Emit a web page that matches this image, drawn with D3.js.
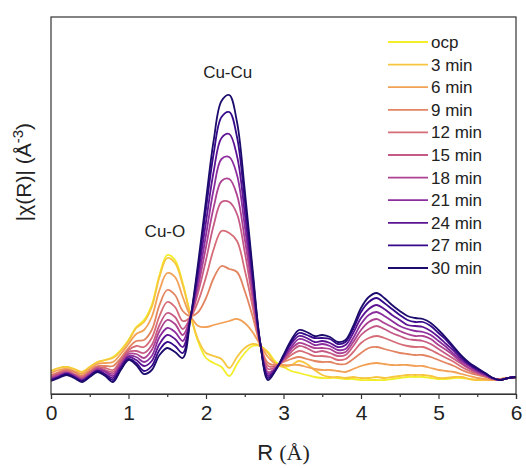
<!DOCTYPE html>
<html>
<head>
<meta charset="utf-8">
<script src="https://cdn.jsdelivr.net/npm/d3@7"></script>
<style>
  body { margin: 0; background: #fff; }
  text { font-family: "Liberation Sans", Arial, sans-serif; fill: #222; }
</style>
</head>
<body>
<div id="chart"></div>
<script>
// R grid (Å), shared by every curve
var rGrid = [0.0,0.1,0.2,0.3,0.4,0.5,0.6,0.7,0.8,0.9,
  1.0,1.1,1.2,1.3,1.4,1.5,1.6,1.7,1.8,1.9,
  2.0,2.1,2.2,2.3,2.4,2.5,2.6,2.7,2.8,2.9,
  3.0,3.1,3.2,3.3,3.4,3.5,3.6,3.7,3.8,3.9,
  4.0,4.1,4.2,4.3,4.4,4.5,4.6,4.7,4.8,4.9,
  5.0,5.1,5.2,5.3,5.4,5.5,5.6,5.7,5.8,5.9,6.0];

var seriesNames = ["ocp","3 min","6 min","9 min","12 min","15 min","18 min","21 min","24 min","27 min","30 min"];
var seriesColors = ["#f2ee2a","#f7c63e","#f2a055","#e38461","#d66c77","#c65a86","#ad4293","#8c2e9e","#5d1494","#35098a","#1c0b6c"];

var ocp = [.23,.26,.27,.25,.22,.27,.32,.34,.37,.44,
  .54,.67,.74,.89,1.19,1.39,1.34,1.11,.79,.52,
  .36,.31,.27,.18,.30,.41,.48,.48,.42,.32,
  .27,.23,.21,.19,.17,.16,.16,.16,.15,.15,
  .14,.14,.14,.14,.15,.16,.17,.17,.17,.16,
  .15,.15,.16,.16,.15,.14,.14,.14,.15,.16,.16];
var min3 = [.23,.26,.27,.25,.22,.27,.32,.34,.36,.43,
  .53,.66,.72,.87,1.17,1.36,1.31,1.09,.79,.54,
  .41,.38,.35,.26,.37,.46,.50,.48,.41,.30,
  .27,.29,.33,.30,.24,.19,.17,.17,.16,.17,
  .16,.16,.17,.16,.17,.18,.19,.19,.19,.18,
  .16,.16,.17,.17,.15,.14,.14,.14,.15,.16,.16];
var min6 = [.21,.24,.25,.23,.20,.25,.30,.31,.32,.40,
  .50,.60,.64,.77,1.04,1.21,1.17,.97,.78,.68,
  .67,.69,.71,.73,.75,.71,.62,.49,.37,.30,
  .29,.29,.29,.27,.25,.24,.24,.23,.22,.25,
  .28,.30,.31,.30,.29,.29,.29,.28,.28,.26,
  .24,.23,.22,.20,.18,.16,.15,.14,.15,.16,.16];
var min9 = [.19,.22,.24,.22,.18,.23,.28,.28,.28,.36,
  .46,.53,.54,.64,.89,1.04,.99,.83,.78,.82,
  .96,1.16,1.28,1.25,1.22,1.03,.78,.49,.31,.29,
  .32,.35,.37,.35,.33,.32,.32,.30,.30,.35,
  .41,.46,.47,.45,.43,.41,.40,.39,.39,.37,
  .34,.31,.28,.24,.21,.19,.17,.15,.15,.16,.16];
var min12 = [.18,.21,.23,.20,.17,.22,.27,.26,.24,.34,
  .44,.48,.47,.56,.78,.92,.87,.73,.77,.93,
  1.17,1.45,1.63,1.61,1.53,1.24,.88,.50,.28,.28,
  .33,.39,.43,.41,.38,.38,.37,.34,.35,.42,
  .51,.56,.58,.56,.53,.50,.48,.47,.47,.44,
  .40,.36,.32,.27,.23,.20,.18,.15,.14,.16,.17];
var min15 = [.17,.20,.22,.19,.16,.21,.26,.24,.22,.32,
  .42,.43,.41,.49,.69,.81,.77,.65,.77,1.02,
  1.34,1.69,1.92,1.92,1.80,1.42,.96,.50,.25,.27,
  .34,.42,.48,.46,.42,.43,.41,.38,.39,.48,
  .59,.65,.68,.65,.61,.58,.55,.54,.53,.50,
  .45,.40,.35,.30,.25,.21,.18,.15,.14,.16,.17];
var min18 = [.16,.19,.21,.19,.15,.20,.25,.23,.20,.30,
  .40,.40,.36,.44,.63,.74,.70,.59,.77,1.08,
  1.47,1.87,2.13,2.15,1.99,1.55,1.03,.50,.22,.26,
  .35,.45,.51,.49,.46,.46,.45,.41,.42,.52,
  .64,.72,.75,.71,.67,.63,.60,.58,.58,.55,
  .49,.44,.38,.31,.26,.22,.19,.15,.14,.16,.17];
var min21 = [.15,.18,.21,.18,.14,.19,.24,.22,.18,.28,
  .38,.37,.32,.38,.57,.66,.62,.53,.77,1.14,
  1.59,2.05,2.35,2.37,2.19,1.68,1.09,.50,.20,.26,
  .36,.47,.55,.53,.49,.50,.48,.44,.45,.56,
  .70,.79,.82,.78,.73,.68,.65,.63,.62,.59,
  .53,.47,.40,.33,.28,.23,.19,.16,.14,.16,.17];
var min24 = [.14,.17,.20,.17,.13,.18,.23,.20,.16,.27,
  .37,.34,.28,.33,.50,.59,.55,.47,.76,1.21,
  1.72,2.23,2.56,2.60,2.38,1.81,1.15,.51,.18,.25,
  .37,.50,.58,.56,.52,.53,.51,.47,.49,.61,
  .76,.85,.89,.85,.79,.74,.69,.68,.67,.63,
  .57,.50,.43,.35,.29,.24,.20,.16,.14,.16,.17];
var min27 = [.14,.17,.20,.17,.13,.18,.23,.19,.14,.25,
  .35,.31,.23,.28,.44,.52,.48,.41,.76,1.27,
  1.85,2.41,2.77,2.82,2.57,1.94,1.21,.51,.16,.24,
  .38,.52,.61,.59,.56,.56,.55,.50,.52,.65,
  .82,.92,.96,.91,.85,.79,.74,.72,.72,.68,
  .61,.54,.45,.37,.30,.25,.21,.16,.14,.16,.17];
var min30 = [.13,.16,.19,.16,.12,.17,.22,.18,.12,.24,
  .34,.29,.20,.24,.39,.46,.42,.36,.76,1.32,
  1.94,2.54,2.93,2.99,2.72,2.04,1.26,.51,.14,.24,
  .39,.54,.64,.62,.58,.59,.57,.52,.54,.68,
  .86,.97,1.01,.96,.89,.83,.78,.76,.75,.71,
  .64,.56,.47,.38,.31,.26,.21,.16,.14,.16,.17];

var xTicks = [0, 1, 2, 3, 4, 5, 6];

var allSeries = [ocp, min3, min6, min9, min12, min15, min18, min21, min24, min27, min30];

var svgWidth = 526;
var svgHeight = 468;
var margin = { top: 17, right: 10, bottom: 74, left: 51 };
var width = svgWidth - margin.left - margin.right;
var height = svgHeight - margin.top - margin.bottom;

var svg = d3.select("#chart")
  .append("svg")
  .attr("width", svgWidth)
  .attr("height", svgHeight);

var chartGroup = svg.append("g")
  .attr("transform", `translate(${margin.left}, ${margin.top})`);

var xScale = d3.scaleLinear().domain([0, 6]).range([0, width]);
var yScale = d3.scaleLinear().domain([0, 3.77]).range([height, 0]);

// curves, ocp underneath, 30 min on top
var line = d3.line()
  .x((d, i) => xScale(rGrid[i]))
  .y(d => yScale(d))
  .curve(d3.curveCatmullRom.alpha(0.5));

chartGroup.append("g")
  .selectAll("path")
  .data(allSeries)
  .enter()
  .append("path")
  .attr("d", d => line(d))
  .attr("fill", "none")
  .attr("stroke", (d, i) => seriesColors[i])
  .attr("stroke-width", 1.8)
  .attr("stroke-linejoin", "round");

// frame
chartGroup.append("rect")
  .attr("width", width)
  .attr("height", height)
  .attr("fill", "none")
  .attr("stroke", "#333")
  .attr("stroke-width", 1.2);

// x axis, major and minor ticks outside
var bottomAxis = d3.axisBottom(xScale).tickValues(xTicks).tickSize(5).tickPadding(6).tickFormat(d3.format("d"));
var xAxisG = chartGroup.append("g")
  .attr("transform", `translate(0, ${height})`)
  .call(bottomAxis);
xAxisG.select(".domain").attr("stroke", "#333").attr("stroke-width", 1.2);
xAxisG.selectAll(".tick line").attr("stroke", "#333").attr("stroke-width", 1.2);
xAxisG.selectAll("text")
  .style("font-family", "'Liberation Sans', Arial, sans-serif")
  .style("font-size", "21px")
  .attr("fill", "#222");

var minorAxis = d3.axisBottom(xScale).tickValues([0.5, 1.5, 2.5, 3.5, 4.5, 5.5]).tickSize(3).tickFormat("");
var minorG = chartGroup.append("g")
  .attr("transform", `translate(0, ${height})`)
  .call(minorAxis);
minorG.select(".domain").remove();
minorG.selectAll(".tick line").attr("stroke", "#333").attr("stroke-width", 1.2);

// axis labels
var xLabel = svg.append("text")
  .attr("x", margin.left + width / 2)
  .attr("y", 460)
  .attr("text-anchor", "middle")
  .style("font-size", "22px");
xLabel.append("tspan").text("R ");
xLabel.append("tspan").style("font-family", "'Liberation Serif', 'Times New Roman', serif").text("(Å)");

var yLabel = svg.append("text")
  .attr("transform", `translate(31, 172) rotate(-90)`)
  .attr("text-anchor", "middle")
  .style("font-size", "21px");
yLabel.append("tspan").text("|χ(R)| (Å");
yLabel.append("tspan").attr("dy", -8).style("font-size", "15px").text("-3");
yLabel.append("tspan").attr("dy", 8).text(")");

// peak annotations
chartGroup.append("text")
  .attr("x", xScale(1.47))
  .attr("y", 237 - margin.top)
  .attr("text-anchor", "middle")
  .style("font-size", "17px")
  .text("Cu-O");

chartGroup.append("text")
  .attr("x", xScale(2.28))
  .attr("y", 78 - margin.top)
  .attr("text-anchor", "middle")
  .style("font-size", "17px")
  .text("Cu-Cu");

// legend
var legend = svg.append("g").attr("transform", "translate(388, 42)");
var rows = legend.selectAll("g")
  .data(seriesNames)
  .enter()
  .append("g")
  .attr("transform", (d, i) => `translate(0, ${i * 22.6})`);
rows.append("line")
  .attr("x1", 0).attr("x2", 40)
  .attr("y1", 0).attr("y2", 0)
  .attr("stroke", (d, i) => seriesColors[i])
  .attr("stroke-width", 1.8);
rows.append("text")
  .attr("x", 43)
  .attr("y", 6)
  .style("font-size", "17px")
  .text(d => d);
</script>
</body>
</html>
